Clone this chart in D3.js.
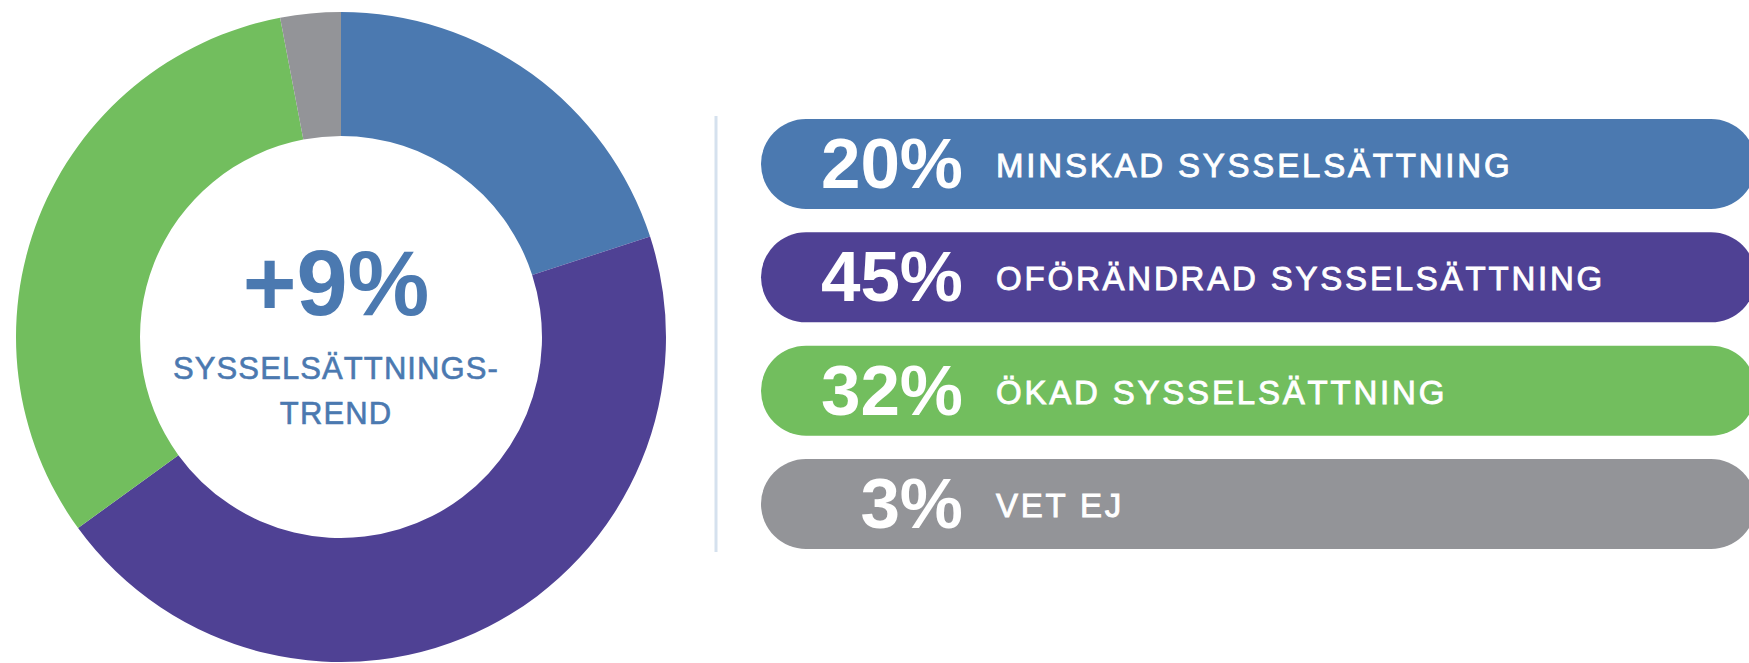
<!DOCTYPE html>
<html>
<head>
<meta charset="utf-8">
<script src="https://cdn.jsdelivr.net/npm/d3@7"></script>
<style>
  html, body { margin: 0; padding: 0; background: #fff; }
  svg { display: block; font-family: "Liberation Sans", Arial, Helvetica, sans-serif; }
</style>
</head>
<body>
<div id="chart"></div>
<script>
/* Donut + pill legend: sysselsättningstrend */

// data
const categories = ["MINSKAD SYSSELSÄTTNING", "OFÖRÄNDRAD SYSSELSÄTTNING", "ÖKAD SYSSELSÄTTNING", "VET EJ"];
const values = [20, 45, 32, 3];
const colors = ["#4b79b0", "#4f4194", "#72be5e", "#939498"];
const trendValue = "+9%";
const trendLines = ["SYSSELSÄTTNINGS-", "TREND"];

const width = 1749,
    height = 663;

const svg = d3.select("#chart")
    .append("svg")
    .attr("width", width)
    .attr("height", height)
    .attr("viewBox", [0, 0, width, height]);

// donut
const cx = 341, cy = 337;
const outerR = 325, innerR = 201;

const pie = d3.pie().sort(null).value(d => d);
const arc = d3.arc().innerRadius(innerR).outerRadius(outerR);

const donut = svg.append("g")
    .attr("transform", `translate(${cx},${cy})`);

donut.selectAll("path")
    .data(pie(values))
    .join("path")
    .attr("d", arc)
    .attr("fill", (d, i) => colors[i]);

// center text
const centerText = svg.append("g")
    .attr("transform", `translate(${cx - 5},0)`)
    .attr("fill", colors[0])
    .attr("text-anchor", "middle");

centerText.append("text")
    .attr("y", 315)
    .attr("font-size", 92)
    .attr("font-weight", "bold")
    .text(trendValue);

// regular weight plus a thin stroke, to look like a medium cut
centerText.selectAll("text.sub")
    .data(trendLines)
    .join("text")
    .attr("class", "sub")
    .attr("y", (d, i) => 378.5 + i * 45)
    .attr("font-size", 31)
    .attr("letter-spacing", 1.1)
    .attr("stroke", colors[0])
    .attr("stroke-width", 0.6)
    .text(d => d);

// divider
svg.append("line")
    .attr("x1", 716).attr("x2", 716)
    .attr("y1", 116).attr("y2", 552)
    .attr("stroke", "#d5e1ee")
    .attr("stroke-width", 3);

// pill rows
const y = d3.scaleBand()
    .domain(categories)
    .range([119, 549])
    .paddingInner(0.206);

const barX0 = 761, barX1 = 1756;

const rows = svg.selectAll("g.row")
    .data(categories)
    .join("g")
    .attr("class", "row")
    .attr("transform", d => `translate(0,${y(d)})`);

rows.append("rect")
    .attr("x", barX0)
    .attr("width", barX1 - barX0)
    .attr("height", y.bandwidth())
    .attr("rx", y.bandwidth() / 2)
    .attr("fill", (d, i) => colors[i]);

rows.append("text")
    .attr("x", 963)
    .attr("y", y.bandwidth() / 2 + 24)
    .attr("text-anchor", "end")
    .attr("fill", "#fff")
    .attr("font-size", 71)
    .attr("font-weight", "bold")
    .text((d, i) => values[i] + "%");

rows.append("text")
    .attr("x", 996)
    .attr("y", y.bandwidth() / 2 + 13)
    .attr("fill", "#fff")
    .attr("stroke", "#fff")
    .attr("stroke-width", 0.9)
    .attr("font-size", 33)
    .attr("letter-spacing", 2.8)
    .text(d => d);
</script>
</body>
</html>
